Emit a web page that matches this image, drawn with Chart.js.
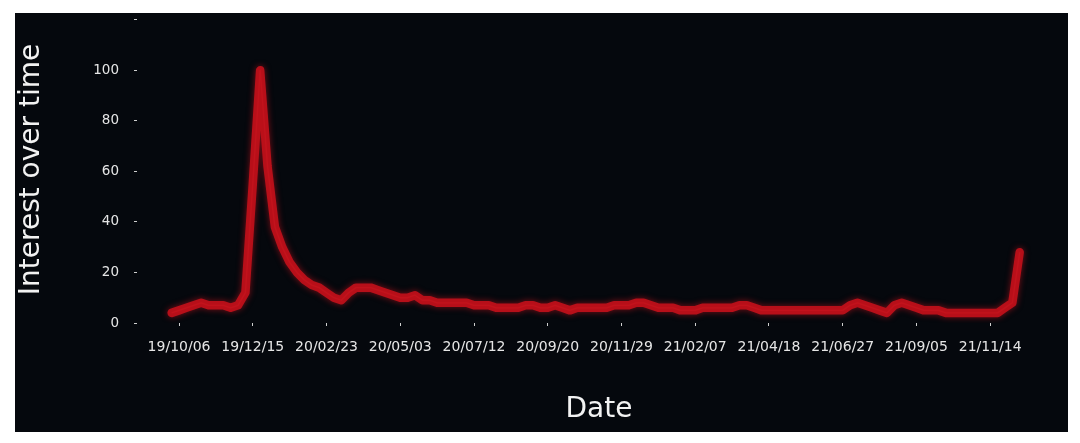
<!DOCTYPE html>
<html>
<head>
<meta charset="utf-8">
<title>Interest over time</title>
<script src="https://cdn.jsdelivr.net/npm/chart.js@4.4.1/dist/chart.umd.min.js"></script>
<style>
  html, body { margin: 0; padding: 0; background: #ffffff; }
  #wrap { position: relative; width: 1080px; height: 443px; }
</style>
</head>
<body>
<div id="wrap"><canvas id="trend-chart"></canvas></div>
<script>
// weekly google-trends style series, first week starts 2019-09-29
const startWeek = '2019-09-29';

const interest = [
  4, 5, 6, 7, 8, 7, 7, 7, 6, 7,
  12, 55, 100, 62, 38, 30, 24, 20, 17, 15,
  14, 12, 10, 9, 12, 14, 14, 14, 13, 12,
  11, 10, 10, 11, 9, 9, 8, 8, 8, 8,
  8, 7, 7, 7, 6, 6, 6, 6, 7, 7,
  6, 6, 7, 6, 5, 6, 6, 6, 6, 6,
  7, 7, 7, 8, 8, 7, 6, 6, 6, 5,
  5, 5, 6, 6, 6, 6, 6, 7, 7, 6,
  5, 5, 5, 5, 5, 5, 5, 5, 5, 5,
  5, 5, 7, 8, 7, 6, 5, 4, 7, 8,
  7, 6, 5, 5, 5, 4, 4, 4, 4, 4,
  4, 4, 4, 6, 8, 28
];

const xTickLabels = [
  '19/10/06', '19/12/15', '20/02/23', '20/05/03', '20/07/12', '20/09/20',
  '20/11/29', '21/02/07', '21/04/18', '21/06/27', '21/09/05', '21/11/14'
];

const yTickValues = [0, 20, 40, 60, 80, 100, 120];
const yTickLabels = ['0', '20', '40', '60', '80', '100', ''];

// build the week labels (yy/mm/dd) for every point
const weeks = [];
const t0 = Date.parse(startWeek + 'T00:00:00Z');
for (let i = 0; i < interest.length; i++) {
  const d = new Date(t0 + i * 7 * 86400000);
  const yy = String(d.getUTCFullYear()).slice(2);
  const mm = String(d.getUTCMonth() + 1).padStart(2, '0');
  const dd = String(d.getUTCDate()).padStart(2, '0');
  weeks.push(yy + '/' + mm + '/' + dd);
}

const points = interest.map((v, i) => ({ x: i, y: v }));

const darkPanel = {
  id: 'darkPanel',
  beforeDraw(chart) {
    const ctx = chart.ctx;
    ctx.save();
    ctx.fillStyle = '#05080d';
    ctx.fillRect(15, 13, 1053, 419);
    ctx.restore();
  }
};

// soft red glow under the thick stroke
const glow = {
  id: 'glow',
  beforeDatasetDraw(chart, args) {
    if (args.index !== 0) return;
    chart.ctx.save();
    chart.ctx.shadowColor = 'rgba(220,20,30,0.6)';
    chart.ctx.shadowBlur = 6;
  },
  afterDatasetDraw(chart, args) {
    if (args.index !== 0) return;
    chart.ctx.restore();
  }
};

const tickFont = { family: 'DejaVu Sans', size: 14 };

new Chart(document.getElementById('trend-chart'), {
  type: 'line',
  data: {
    datasets: [
      {
        data: points,
        borderColor: 'rgba(192,16,26,0.92)',
        borderWidth: 8.5,
        borderJoinStyle: 'round',
        borderCapStyle: 'round',
        pointRadius: 0,
        tension: 0
      },
      {
        data: points,
        borderColor: 'rgba(255,80,80,0.9)',
        borderWidth: 1.3,
        borderJoinStyle: 'round',
        pointRadius: 0,
        tension: 0
      }
    ]
  },
  options: {
    responsive: true,
    maintainAspectRatio: false,
    animation: false,
    layout: { padding: { top: 16, right: 19, bottom: 0, left: 0 } },
    plugins: { legend: { display: false }, tooltip: { enabled: false } },
    scales: {
      x: {
        type: 'linear',
        min: -4.7,
        max: 120.6,
        afterFit: (s) => { s.height = 120; },
        afterBuildTicks: (s) => {
          s.ticks = xTickLabels.map(t => ({ value: weeks.indexOf(t) }));
        },
        border: { display: false },
        grid: { drawOnChartArea: false, drawTicks: true, tickLength: 3, tickColor: '#cfcfcf' },
        ticks: {
          color: '#e6e6e6',
          font: tickFont,
          padding: 13,
          maxRotation: 0,
          autoSkip: false,
          callback: (v) => weeks[v]
        },
        title: {
          display: true,
          text: 'Date',
          color: '#f2f2f2',
          font: { family: 'DejaVu Sans', size: 28 },
          padding: { top: 0, bottom: 16 }
        }
      },
      y: {
        min: 0,
        max: 121.5,
        afterFit: (s) => {
          s.width = 137;
          s.paddingTop = 0;
          s.paddingBottom = 0;
        },
        afterBuildTicks: (s) => {
          s.ticks = yTickValues.map(v => ({ value: v }));
        },
        border: { display: false },
        grid: { drawOnChartArea: false, drawTicks: true, tickLength: 3, tickColor: '#cfcfcf' },
        ticks: {
          color: '#e6e6e6',
          font: { family: 'DejaVu Sans', size: 13.5 },
          padding: 15,
          callback: (v) => yTickLabels[yTickValues.indexOf(v)]
        },
        title: {
          display: true,
          text: 'Interest over time',
          color: '#f2f2f2',
          font: { family: 'DejaVu Sans', size: 28 },
          padding: { top: 15, bottom: 0 }
        }
      }
    }
  },
  plugins: [darkPanel, glow]
});
</script>
</body>
</html>
